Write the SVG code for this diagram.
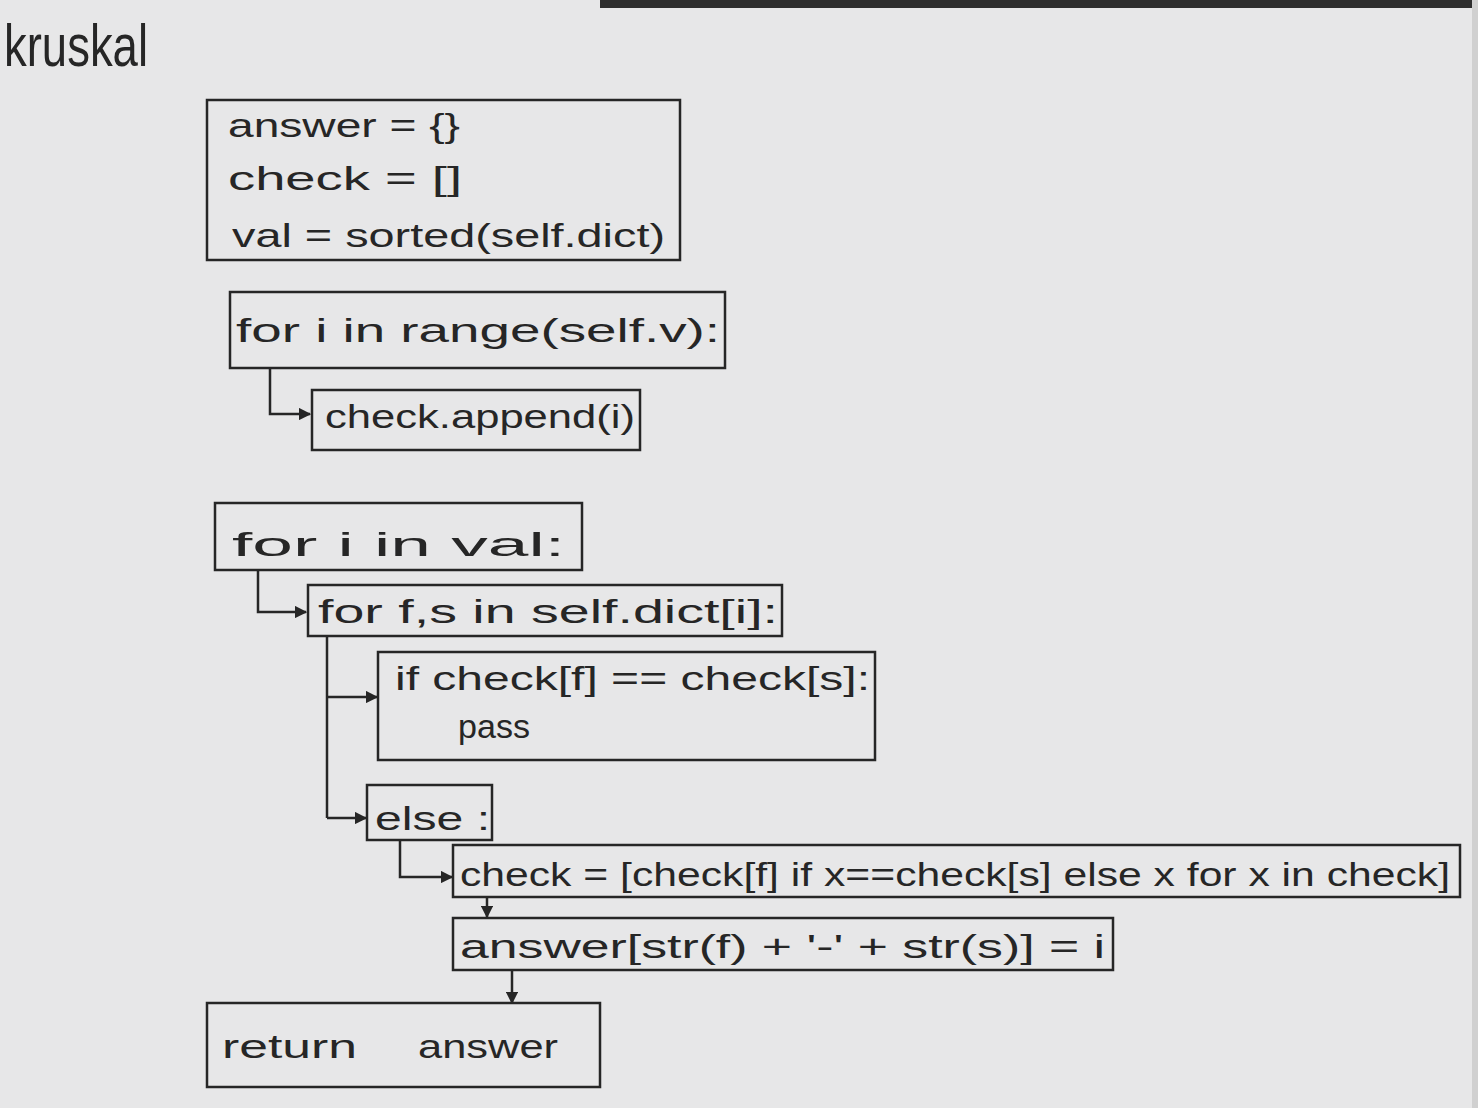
<svg xmlns="http://www.w3.org/2000/svg" width="1478" height="1108" viewBox="0 0 1478 1108">
<style>
.bg{fill:#e7e7e8}
.box{fill:none;stroke:#262626;stroke-width:2.5}
.t{font-family:"Liberation Sans","DejaVu Sans",sans-serif;font-size:34px;fill:#262626}
.title{font-family:"Liberation Sans","DejaVu Sans",sans-serif;font-size:60px;fill:#262626}
.c{fill:none;stroke:#262626;stroke-width:2.5}
</style>
<defs>
<marker id="ah" viewBox="0 0 10 10" refX="9" refY="5" markerWidth="5" markerHeight="5" orient="auto" markerUnits="strokeWidth">
<path d="M0,0 L10,5 L0,10 z" fill="#262626"/>
</marker>
</defs>
<rect class="bg" x="0" y="0" width="1478" height="1108"/>
<rect x="600" y="0" width="878" height="8" fill="#2e2e2e"/>
<rect x="1472" y="0" width="6" height="1108" fill="#d0d0d0"/>
<text class="title" x="4" y="66" textLength="144" lengthAdjust="spacingAndGlyphs">kruskal</text>

<g id="connectors">
<path class="c" d="M270,368 V414 H310" marker-end="url(#ah)"/>
<path class="c" d="M258,570 V612 H306" marker-end="url(#ah)"/>
<path class="c" d="M327,636 V818"/>
<path class="c" d="M327,697 H377" marker-end="url(#ah)"/>
<path class="c" d="M327,818 H366" marker-end="url(#ah)"/>
<path class="c" d="M400,840 V877 H452" marker-end="url(#ah)"/>
<path class="c" d="M487,897 V917" marker-end="url(#ah)"/>
<path class="c" d="M512,970 V1003" marker-end="url(#ah)"/>
</g>

<g id="init">
<rect class="box" x="207" y="100" width="473" height="160"/>
<text class="t" x="228" y="137" textLength="232" lengthAdjust="spacingAndGlyphs">answer = {}</text>
<text class="t" x="228" y="190" textLength="234" lengthAdjust="spacingAndGlyphs">check = []</text>
<text class="t" x="232" y="247" textLength="433" lengthAdjust="spacingAndGlyphs">val = sorted(self.dict)</text>
</g>
<g id="for_range">
<rect class="box" x="230" y="292" width="495" height="76"/>
<text class="t" x="236" y="342" textLength="484" lengthAdjust="spacingAndGlyphs">for i in range(self.v):</text>
</g>
<g id="append">
<rect class="box" x="312" y="390" width="328" height="60"/>
<text class="t" x="325" y="428" textLength="310" lengthAdjust="spacingAndGlyphs">check.append(i)</text>
</g>
<g id="for_val">
<rect class="box" x="215" y="503" width="367" height="67"/>
<text class="t" x="232" y="556" textLength="333" lengthAdjust="spacingAndGlyphs">for i in val:</text>
</g>
<g id="for_fs">
<rect class="box" x="308" y="585" width="474" height="51"/>
<text class="t" x="318" y="623" textLength="460" lengthAdjust="spacingAndGlyphs">for f,s in self.dict[i]:</text>
</g>
<g id="if_check">
<rect class="box" x="378" y="652" width="497" height="108"/>
<text class="t" x="395" y="690" textLength="475" lengthAdjust="spacingAndGlyphs">if check[f] == check[s]:</text>
<text class="t" x="458" y="738" textLength="72" lengthAdjust="spacingAndGlyphs">pass</text>
</g>
<g id="else">
<rect class="box" x="367" y="785" width="125" height="55"/>
<text class="t" x="375" y="830" textLength="115" lengthAdjust="spacingAndGlyphs">else :</text>
</g>
<g id="update_check">
<rect class="box" x="453" y="845" width="1007" height="52"/>
<text class="t" x="460" y="886" textLength="990" lengthAdjust="spacingAndGlyphs">check = [check[f] if x==check[s] else x for x in check]</text>
</g>
<g id="answer_assign">
<rect class="box" x="453" y="918" width="660" height="52"/>
<text class="t" x="460" y="958" textLength="645" lengthAdjust="spacingAndGlyphs">answer[str(f) + '-' + str(s)] = i</text>
</g>
<g id="return">
<rect class="box" x="207" y="1003" width="393" height="84"/>
<text class="t" x="222" y="1058"><tspan textLength="135" lengthAdjust="spacingAndGlyphs">return</tspan><tspan x="418" textLength="140" lengthAdjust="spacingAndGlyphs">answer</tspan></text>
</g>
</svg>
